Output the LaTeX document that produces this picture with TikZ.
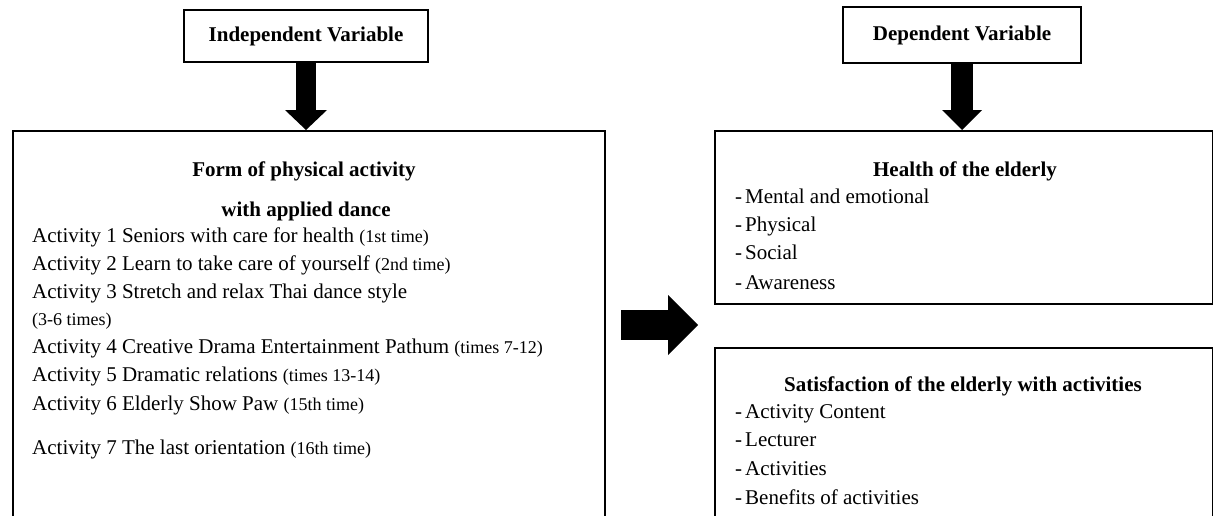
\documentclass[tikz,border=0pt]{standalone}
\usepackage{fontspec}
\setmainfont{Liberation Serif}
\usetikzlibrary{arrows.meta}
\newcommand\smpar[1]{{\fontsize{18}{20}\selectfont #1}}
\begin{document}
\begin{tikzpicture}[x=1pt,y=-1pt,
  box/.style={draw=black,line width=1.6pt,inner sep=0pt},
  hd/.style={font=\fontsize{21}{25}\selectfont\bfseries,inner sep=0pt,anchor=base},
  txt/.style={font=\fontsize{21}{25}\selectfont,inner sep=0pt,anchor=base west},
  blockarrow/.style={line width=#1,draw=black},
]
\useasboundingbox (0,0) rectangle (1213,515);
\clip (0,0) rectangle (1213,515);
\fill[white] (0,0) rectangle (1213,515);

% header boxes
\node[box,minimum width=244pt,minimum height=52pt,font=\fontsize{21}{25}\selectfont\bfseries] (indep) at (306,36) {Independent Variable};
\node[box,minimum width=238pt,minimum height=56pt,font=\fontsize{21}{25}\selectfont\bfseries] (dep) at (962,35) {Dependent Variable};

% main boxes
\node[box,minimum width=592pt,minimum height=430pt,anchor=north west] (act) at (12,130) {};
\node[box,minimum width=498pt,minimum height=173pt,anchor=north west] (health) at (714,130) {};
\node[box,minimum width=498pt,minimum height=220pt,anchor=north west] (satis) at (714,347) {};

% block arrows
\draw[blockarrow=20pt,-{Triangle[width=42pt,length=20pt,line width=0pt]}] (indep.south) -- (act.north -| indep.south);
\draw[blockarrow=22pt,-{Triangle[width=40pt,length=20pt,line width=0pt]}] (dep.south) -- (health.north -| dep.south);
\coordinate (hs) at (621,325);
\coordinate (he) at (698,325);
\draw[blockarrow=30pt,-{Triangle[width=60pt,length=30pt,line width=0pt]}] (hs) -- (he);

% left box text
\node[hd] (t1) at (304,176.5) {Form of physical activity};
\node[hd] (t2) at (306,216) {with applied dance};
\node[txt] (a1) at (32,242) {Activity 1 Seniors with care for health \smpar{(1st time)}};
\node[txt] (a2) at (32,270.7) {Activity 2 Learn to take care of yourself \smpar{(2nd time)}};
\node[txt] (a3) at (32,298.3) {Activity 3 Stretch and relax Thai dance style};
\node[txt] (a3b) at (32,325) {\smpar{(3-6 times)}};
\node[txt] (a4) at (32,353.3) {Activity 4 Creative Drama Entertainment Pathum \smpar{(times 7-12)}};
\node[txt] (a5) at (32,381) {Activity 5 Dramatic relations \smpar{(times 13-14)}};
\node[txt] (a6) at (32,410) {Activity 6 Elderly Show Paw \smpar{(15th time)}};
\node[txt] (a7) at (32,454) {Activity 7 The last orientation \smpar{(16th time)}};

% health box text
\node[hd] (h0) at (965,176.7) {Health of the elderly};
\node[txt] (h1) at (735,203.3) {-\hspace{3pt}Mental and emotional};
\node[txt] (h2) at (735,231.7) {-\hspace{3pt}Physical};
\node[txt] (h3) at (735,259.3) {-\hspace{3pt}Social};
\node[txt] (h4) at (735,289.3) {-\hspace{3pt}Awareness};

% satisfaction box text
\node[hd] (s0) at (963,391.7) {Satisfaction of the elderly with activities};
\node[txt] (s1) at (735,418.3) {-\hspace{3pt}Activity Content};
\node[txt] (s2) at (735,446.7) {-\hspace{3pt}Lecturer};
\node[txt] (s3) at (735,475) {-\hspace{3pt}Activities};
\node[txt] (s4) at (735,504) {-\hspace{3pt}Benefits of activities};
\end{tikzpicture}
\end{document}
